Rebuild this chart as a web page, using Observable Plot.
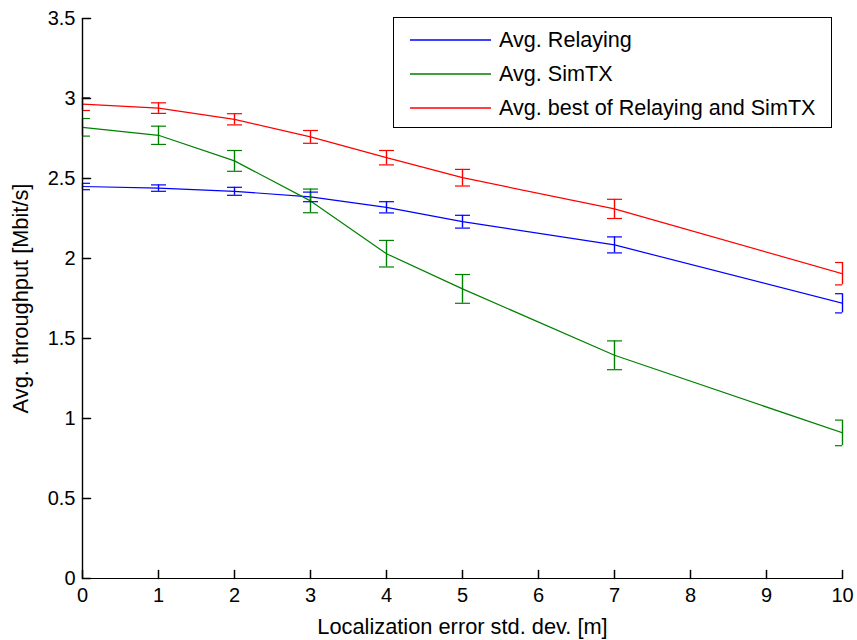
<!DOCTYPE html>
<html><head><meta charset="utf-8">
<script src="https://cdn.jsdelivr.net/npm/d3@7"></script>
<script src="https://cdn.jsdelivr.net/npm/@observablehq/plot@0.6"></script>
<style>
body{margin:0;background:#fff;}
#wrap{position:relative;width:857px;height:640px;font-family:"Liberation Sans",Arial,sans-serif;}
#legend{position:absolute;left:393px;top:17px;width:437px;height:109px;border:1px solid #000;background:#fff;box-sizing:content-box;}
.row{position:absolute;left:0;height:34px;display:flex;align-items:center;font-size:21.6px;color:#000;white-space:nowrap;}
.row svg{margin-left:16px;margin-right:8px;}
</style></head><body>
<div id="wrap"><div id="chart"></div><div id="legend"></div></div>
<script>
// ---- data ----
const xValues = [0, 1, 2, 3, 4, 5, 7, 10];
const seriesNames = ["Avg. Relaying", "Avg. SimTX", "Avg. best of Relaying and SimTX"];
const seriesColors = ["#0000ff", "#008000", "#ff0000"];
const relayMean = [2.45, 2.44, 2.42, 2.385, 2.32, 2.23, 2.085, 1.72];
const relayErr  = [0.02, 0.02, 0.025, 0.03, 0.035, 0.04, 0.05, 0.06];
const simtxMean = [2.82, 2.77, 2.61, 2.36, 2.03, 1.81, 1.395, 0.91];
const simtxErr  = [0.055, 0.057, 0.065, 0.074, 0.083, 0.09, 0.09, 0.08];
const bestMean  = [2.965, 2.94, 2.87, 2.76, 2.63, 2.505, 2.31, 1.905];
const bestErr   = [0.04, 0.033, 0.035, 0.04, 0.045, 0.052, 0.06, 0.07];
const xTicks = [0, 1, 2, 3, 4, 5, 6, 7, 8, 9, 10];
const yTicks = [0, 0.5, 1, 1.5, 2, 2.5, 3, 3.5];
const xLabel = "Localization error std. dev. [m]";
const yLabel = "Avg. throughput [Mbit/s]";

const means = [relayMean, simtxMean, bestMean];
const errs = [relayErr, simtxErr, bestErr];
const rows = [];
seriesNames.forEach((s, i) => {
  xValues.forEach((x, j) => {
    rows.push({series: s, x, y: means[i][j], lo: means[i][j] - errs[i][j], hi: means[i][j] + errs[i][j]});
  });
});
const caps = rows.flatMap(d => [{series: d.series, x: d.x, y: d.lo}, {series: d.series, x: d.x, y: d.hi}]);

const capSymbol = {draw(ctx, size) { const r = Math.sqrt(size / Math.PI); ctx.moveTo(-r, 0); ctx.lineTo(r, 0); }};
const tickShape = {draw(ctx, l) { ctx.moveTo(0, 0); ctx.lineTo(0, -l); }};

const chart = Plot.plot({
  width: 857, height: 640,
  marginLeft: 82, marginRight: 15, marginTop: 18, marginBottom: 62,
  style: {fontFamily: "'Liberation Sans', Arial, sans-serif", fontSize: "20px", color: "#000", background: "#fff"},
  x: {domain: [0, 10]},
  y: {domain: [0, 3.5]},
  color: {domain: seriesNames, range: seriesColors},
  marks: [
    Plot.line(rows, {x: "x", y: "y", z: "series", stroke: "series", strokeWidth: 1.2, clip: true}),
    Plot.ruleX(rows, {x: "x", y1: "lo", y2: "hi", stroke: "series", strokeWidth: 1.4}),
    Plot.dot(caps, {x: "x", y: "y", stroke: "series", fill: "none", symbol: capSymbol, r: 7.5, strokeWidth: 1.2, clip: true}),
    Plot.ruleX([0], {stroke: "#000", strokeWidth: 1.4}),
    Plot.ruleY([0], {stroke: "#000", strokeWidth: 1.2}),
    Plot.vector(xTicks, {x: d => d, frameAnchor: "bottom", length: 8, rotate: 0, anchor: "start", shape: tickShape, stroke: "#000"}),
    Plot.vector(yTicks, {y: d => d, frameAnchor: "left", length: 8, rotate: 90, anchor: "start", shape: tickShape, stroke: "#000"}),
    Plot.axisX({ticks: xTicks, tickSize: 0, tickPadding: 9, label: null, tickFormat: d => String(d)}),
    Plot.axisY({ticks: yTicks, tickSize: 0, tickPadding: 7, label: null, tickFormat: d => String(d)}),
    Plot.text([xLabel], {frameAnchor: "bottom", dy: 55, fontSize: 21.8, text: d => d}),
    Plot.text([yLabel], {frameAnchor: "left", textAnchor: "middle", dx: -61, rotate: -90, fontSize: 21.8, text: d => d})
  ]
});
document.getElementById("chart").appendChild(chart);

const legend = document.getElementById("legend");
seriesNames.forEach((s, i) => {
  const row = document.createElement("div");
  row.className = "row";
  row.style.top = (5 + 34 * i) + "px";
  row.innerHTML = `<svg width="81" height="4"><line x1="0" y1="2" x2="81" y2="2" stroke="${seriesColors[i]}" stroke-width="1.3"/></svg><span>${s}</span>`;
  legend.appendChild(row);
});
</script>
</body></html>
